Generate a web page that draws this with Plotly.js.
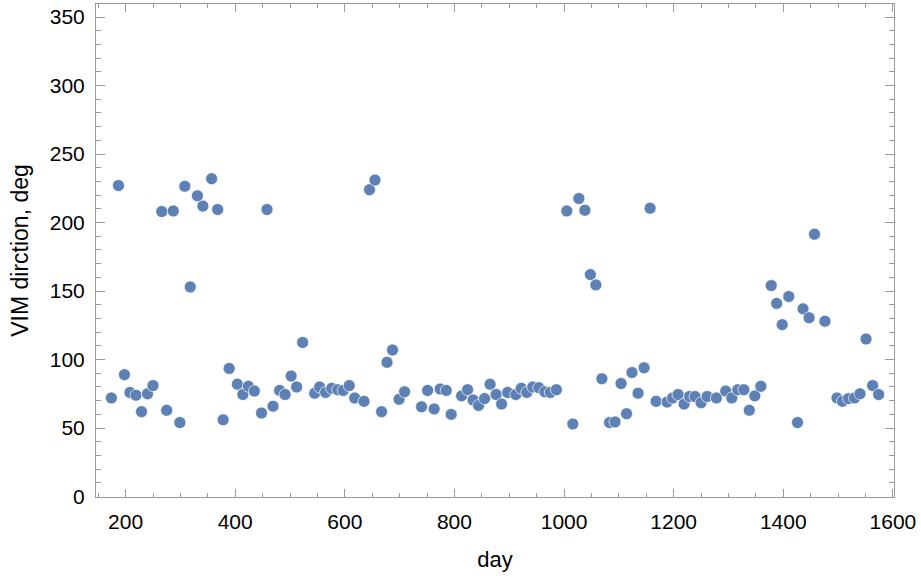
<!DOCTYPE html>
<html>
<head>
<meta charset="utf-8">
<script src="https://cdn.plot.ly/plotly-3.0.1.min.js"></script>
<style>
  html, body { margin: 0; padding: 0; background: #fff; }
  #chart { width: 921px; height: 581px; }
</style>
</head>
<body>
<div id="chart"></div>
<script>
// day of each sample
var days = [
  174, 187, 198, 208, 219, 229, 240, 250, 266, 275,
  287, 299, 308, 318, 331, 341, 357, 368, 378, 389,
  404, 414, 424, 435, 448, 458, 469, 481, 491, 502,
  512, 523, 545, 554, 565, 576, 587, 597, 608, 618,
  635, 645, 655, 667, 677, 687, 699, 709, 740, 751,
  763, 774, 785, 794, 813, 824, 834, 844, 855, 865,
  876, 886, 897, 912, 922, 932, 943, 954, 965, 975,
  986, 1005, 1016, 1027, 1038, 1048, 1058, 1069, 1083, 1093,
  1104, 1114, 1124, 1135, 1146, 1157, 1168, 1188, 1198, 1208,
  1219, 1229, 1239, 1250, 1261, 1278, 1295, 1306, 1317, 1328,
  1338, 1348, 1359, 1378, 1388, 1398, 1410, 1426, 1436, 1447,
  1457, 1476, 1498, 1508, 1519, 1530, 1540, 1551, 1563, 1574
];

// VIM direction, deg
var direction = [
  72, 227, 89, 76, 74, 62, 75, 81, 208, 63,
  208.5, 54, 226.5, 153, 219.5, 212, 232, 209.5, 56, 93.5,
  82, 74.5, 80.5, 77, 61, 209.5, 66, 77.5, 74.5, 88,
  80, 112.5, 75.5, 80, 76, 79, 78, 77.5, 81, 72,
  69.5, 224, 231, 62, 98, 107, 71, 76.5, 65.5, 77.5,
  64, 78.5, 77.5, 60, 73.5, 78, 70.5, 66.5, 71.5, 82,
  74.5, 67.5, 76, 74.5, 79, 76, 80, 79.5, 76.5, 76,
  78, 208.5, 53, 217.5, 209, 162, 154.5, 86, 54, 54.5,
  82.5, 60.5, 90.5, 75.5, 94, 210.5, 69.5, 69, 72, 74.5,
  67.5, 73, 73, 68.5, 73, 72, 77, 72, 78, 78,
  63, 73.5, 80.5, 154, 141, 125.5, 146, 54, 137, 130.5,
  191.5, 128, 72, 69.5, 71.5, 72, 75, 115, 81, 74.5
];

var frameColor = '#9a9a9a';
var fontFam = 'Liberation Sans, Arial, sans-serif';

var trace = {
  x: days,
  y: direction,
  type: 'scatter',
  mode: 'markers',
  marker: {
    color: '#5E81B5',
    size: 12,
    line: {color: 'rgba(255,255,255,0.85)', width: 0.8}
  },
  hoverinfo: 'x+y'
};

var layout = {
  width: 921,
  height: 581,
  margin: {l: 96, r: 27, t: 4, b: 84},
  paper_bgcolor: '#fff',
  plot_bgcolor: '#fff',
  showlegend: false,
  font: {family: fontFam, size: 21, color: '#000'},
  xaxis: {
    range: [146, 1602],
    tickmode: 'linear',
    tick0: 0,
    dtick: 200,
    ticks: 'inside',
    ticklen: 8,
    tickwidth: 1,
    tickcolor: frameColor,
    minor: {dtick: 50, tick0: 0, ticks: 'inside', ticklen: 4, tickcolor: frameColor, showgrid: false},
    showline: true,
    linecolor: frameColor,
    linewidth: 1,
    mirror: 'ticks',
    showgrid: false,
    zeroline: false,
    ticklabelstandoff: 6,
    tickfont: {family: fontFam, size: 21, color: '#000'},
    title: {text: 'day', font: {family: fontFam, size: 22, color: '#000'}, standoff: 19}
  },
  yaxis: {
    range: [-0.3, 359.5],
    tickmode: 'linear',
    tick0: 0,
    dtick: 50,
    ticks: 'inside',
    ticklen: 9,
    tickwidth: 1,
    tickcolor: frameColor,
    minor: {dtick: 10, tick0: 0, ticks: 'inside', ticklen: 5, tickcolor: frameColor, showgrid: false},
    showline: true,
    linecolor: frameColor,
    linewidth: 1,
    mirror: 'ticks',
    showgrid: false,
    zeroline: false,
    ticklabelstandoff: 6,
    tickfont: {family: fontFam, size: 21, color: '#000'},
    title: {text: 'VIM dirction, deg', font: {family: fontFam, size: 23, color: '#000'}, standoff: 14}
  }
};

Plotly.newPlot('chart', [trace], layout, {staticPlot: true, displayModeBar: false});
</script>
</body>
</html>
